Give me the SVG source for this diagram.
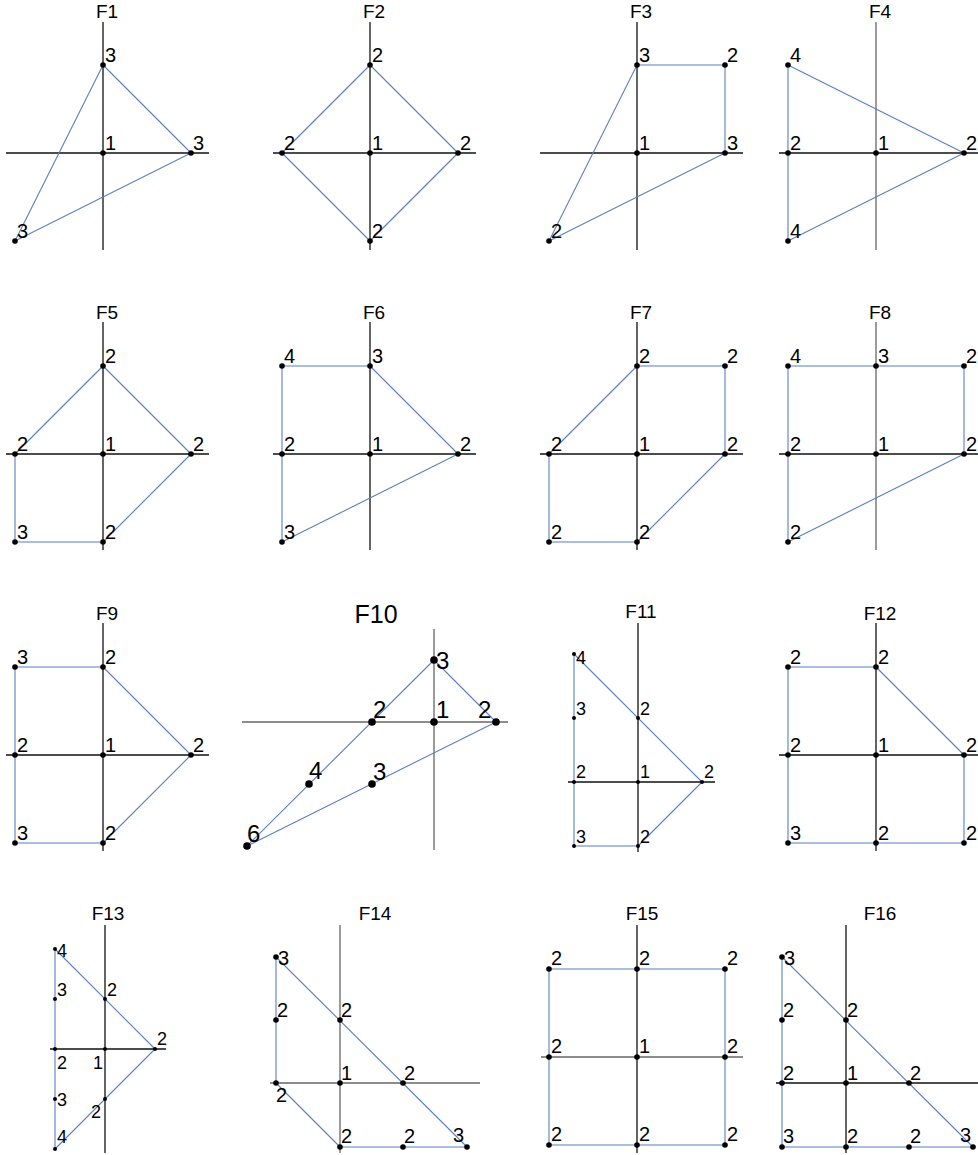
<svg xmlns="http://www.w3.org/2000/svg" width="978" height="1155" viewBox="0 0 978 1155">
<style>
text{font-family:"Liberation Sans",Arial,sans-serif;font-size:20px;fill:#000}
.ttl{font-size:19px;text-anchor:middle}
.big{font-size:24px}
.ttlb{font-size:25px;text-anchor:middle}
.sm{font-size:18px}
.ax{stroke:#111;stroke-width:1.3;fill:none}
.axg{stroke:#666;stroke-width:1.3;fill:none}
.e{stroke:#5b7fc1;stroke-width:1.1;fill:none;stroke-linejoin:round}
circle{fill:#000}
</style>
<rect width="978" height="1155" fill="#fff"/>

<!-- F1 -->
<g id="F1">
<text class="ttl" x="107" y="18">F1</text>
<line class="ax" x1="6" y1="153" x2="209" y2="153"/><line class="ax" x1="103" y1="22" x2="103" y2="250"/>
<g id="F1-edges"><polygon class="e" points="103,65 191,153 15,241"/></g>
<g id="F1-a"><circle cx="103" cy="65" r="2.8"/><text x="105" y="62">3</text></g>
<g id="F1-b"><circle cx="103" cy="153" r="2.8"/><text x="105" y="150">1</text></g>
<g id="F1-c"><circle cx="191" cy="153" r="2.8"/><text x="193" y="150">3</text></g>
<g id="F1-d"><circle cx="15" cy="241" r="2.8"/><text x="17" y="238">3</text></g>
</g>

<!-- F2 -->
<g id="F2">
<text class="ttl" x="374" y="18">F2</text>
<line class="ax" x1="273" y1="153" x2="476" y2="153"/><line class="ax" x1="370" y1="22" x2="370" y2="250"/>
<g id="F2-edges"><polygon class="e" points="370,65 458,153 370,241 282,153"/></g>
<g id="F2-a"><circle cx="370" cy="65" r="2.8"/><text x="372" y="62">2</text></g>
<g id="F2-b"><circle cx="282" cy="153" r="2.8"/><text x="284" y="150">2</text></g>
<g id="F2-c"><circle cx="370" cy="153" r="2.8"/><text x="372" y="150">1</text></g>
<g id="F2-d"><circle cx="458" cy="153" r="2.8"/><text x="460" y="150">2</text></g>
<g id="F2-e"><circle cx="370" cy="241" r="2.8"/><text x="372" y="238">2</text></g>
</g>

<!-- F3 -->
<g id="F3">
<text class="ttl" x="641" y="18">F3</text>
<line class="ax" x1="540" y1="153" x2="743" y2="153"/><line class="ax" x1="637" y1="22" x2="637" y2="250"/>
<g id="F3-edges"><polygon class="e" points="549,241 637,65 725,65 725,153"/></g>
<g id="F3-a"><circle cx="637" cy="65" r="2.8"/><text x="639" y="62">3</text></g>
<g id="F3-b"><circle cx="725" cy="65" r="2.8"/><text x="727" y="62">2</text></g>
<g id="F3-c"><circle cx="637" cy="153" r="2.8"/><text x="639" y="150">1</text></g>
<g id="F3-d"><circle cx="725" cy="153" r="2.8"/><text x="727" y="150">3</text></g>
<g id="F3-e"><circle cx="549" cy="241" r="2.8"/><text x="551" y="238">2</text></g>
</g>

<!-- F4 -->
<g id="F4">
<text class="ttl" x="880" y="18">F4</text>
<line class="ax" x1="779" y1="153" x2="978" y2="153"/><line class="axg" x1="876" y1="22" x2="876" y2="250"/>
<g id="F4-edges"><polygon class="e" points="788,65 964,153 788,241"/></g>
<g id="F4-a"><circle cx="788" cy="65" r="2.8"/><text x="790" y="62">4</text></g>
<g id="F4-b"><circle cx="788" cy="153" r="2.8"/><text x="790" y="150">2</text></g>
<g id="F4-c"><circle cx="876" cy="153" r="2.8"/><text x="878" y="150">1</text></g>
<g id="F4-d"><circle cx="964" cy="153" r="2.8"/><text x="966" y="150">2</text></g>
<g id="F4-e"><circle cx="788" cy="241" r="2.8"/><text x="790" y="238">4</text></g>
</g>

<!-- F5 -->
<g id="F5">
<text class="ttl" x="107" y="319">F5</text>
<line class="ax" x1="6" y1="454" x2="209" y2="454"/><line class="ax" x1="103" y1="322" x2="103" y2="550"/>
<g id="F5-edges"><polygon class="e" points="15,454 103,366 191,454 103,542 15,542"/></g>
<g id="F5-a"><circle cx="103" cy="366" r="2.8"/><text x="105" y="363">2</text></g>
<g id="F5-b"><circle cx="15" cy="454" r="2.8"/><text x="17" y="451">2</text></g>
<g id="F5-c"><circle cx="103" cy="454" r="2.8"/><text x="105" y="451">1</text></g>
<g id="F5-d"><circle cx="191" cy="454" r="2.8"/><text x="193" y="451">2</text></g>
<g id="F5-e"><circle cx="15" cy="542" r="2.8"/><text x="17" y="539">3</text></g>
<g id="F5-f"><circle cx="103" cy="542" r="2.8"/><text x="105" y="539">2</text></g>
</g>

<!-- F6 -->
<g id="F6">
<text class="ttl" x="374" y="319">F6</text>
<line class="ax" x1="273" y1="454" x2="476" y2="454"/><line class="ax" x1="370" y1="322" x2="370" y2="550"/>
<g id="F6-edges"><polygon class="e" points="282,366 370,366 458,454 282,542"/></g>
<g id="F6-a"><circle cx="282" cy="366" r="2.8"/><text x="284" y="363">4</text></g>
<g id="F6-b"><circle cx="370" cy="366" r="2.8"/><text x="372" y="363">3</text></g>
<g id="F6-c"><circle cx="282" cy="454" r="2.8"/><text x="284" y="451">2</text></g>
<g id="F6-d"><circle cx="370" cy="454" r="2.8"/><text x="372" y="451">1</text></g>
<g id="F6-e"><circle cx="458" cy="454" r="2.8"/><text x="460" y="451">2</text></g>
<g id="F6-f"><circle cx="282" cy="542" r="2.8"/><text x="284" y="539">3</text></g>
</g>

<!-- F7 -->
<g id="F7">
<text class="ttl" x="641" y="319">F7</text>
<line class="ax" x1="540" y1="454" x2="743" y2="454"/><line class="ax" x1="637" y1="322" x2="637" y2="550"/>
<g id="F7-edges"><polygon class="e" points="549,454 637,366 725,366 725,454 637,542 549,542"/></g>
<g id="F7-a"><circle cx="637" cy="366" r="2.8"/><text x="639" y="363">2</text></g>
<g id="F7-b"><circle cx="725" cy="366" r="2.8"/><text x="727" y="363">2</text></g>
<g id="F7-c"><circle cx="549" cy="454" r="2.8"/><text x="551" y="451">2</text></g>
<g id="F7-d"><circle cx="637" cy="454" r="2.8"/><text x="639" y="451">1</text></g>
<g id="F7-e"><circle cx="725" cy="454" r="2.8"/><text x="727" y="451">2</text></g>
<g id="F7-f"><circle cx="549" cy="542" r="2.8"/><text x="551" y="539">2</text></g>
<g id="F7-g"><circle cx="637" cy="542" r="2.8"/><text x="639" y="539">2</text></g>
</g>

<!-- F8 -->
<g id="F8">
<text class="ttl" x="880" y="319">F8</text>
<line class="ax" x1="779" y1="454" x2="978" y2="454"/><line class="axg" x1="876" y1="322" x2="876" y2="550"/>
<g id="F8-edges"><polygon class="e" points="788,366 964,366 964,454 788,542"/></g>
<g id="F8-a"><circle cx="788" cy="366" r="2.8"/><text x="790" y="363">4</text></g>
<g id="F8-b"><circle cx="876" cy="366" r="2.8"/><text x="878" y="363">3</text></g>
<g id="F8-c"><circle cx="964" cy="366" r="2.8"/><text x="966" y="363">2</text></g>
<g id="F8-d"><circle cx="788" cy="454" r="2.8"/><text x="790" y="451">2</text></g>
<g id="F8-e"><circle cx="876" cy="454" r="2.8"/><text x="878" y="451">1</text></g>
<g id="F8-f"><circle cx="964" cy="454" r="2.8"/><text x="966" y="451">2</text></g>
<g id="F8-g"><circle cx="788" cy="542" r="2.8"/><text x="790" y="539">2</text></g>
</g>

<!-- F9 -->
<g id="F9">
<text class="ttl" x="107" y="620">F9</text>
<line class="ax" x1="6" y1="755" x2="209" y2="755"/><line class="ax" x1="103" y1="623" x2="103" y2="851"/>
<g id="F9-edges"><polygon class="e" points="15,667 103,667 191,755 103,843 15,843"/></g>
<g id="F9-a"><circle cx="15" cy="667" r="2.8"/><text x="17" y="664">3</text></g>
<g id="F9-b"><circle cx="103" cy="667" r="2.8"/><text x="105" y="664">2</text></g>
<g id="F9-c"><circle cx="15" cy="755" r="2.8"/><text x="17" y="752">2</text></g>
<g id="F9-d"><circle cx="103" cy="755" r="2.8"/><text x="105" y="752">1</text></g>
<g id="F9-e"><circle cx="191" cy="755" r="2.8"/><text x="193" y="752">2</text></g>
<g id="F9-f"><circle cx="15" cy="843" r="2.8"/><text x="17" y="840">3</text></g>
<g id="F9-g"><circle cx="103" cy="843" r="2.8"/><text x="105" y="840">2</text></g>
</g>

<!-- F10 -->
<g id="F10">
<text class="ttlb" x="376" y="623">F10</text>
<line class="axg" x1="242" y1="722" x2="508" y2="722"/><line class="axg" x1="434" y1="629" x2="434" y2="850"/>
<g id="F10-edges"><polygon class="e" points="247,846 434,660 496,722"/></g>
<g id="F10-a"><circle cx="434" cy="660" r="3.8"/><text class="big" x="436" y="669">3</text></g>
<g id="F10-b"><circle cx="372" cy="722" r="3.8"/><text class="big" x="373" y="718">2</text></g>
<g id="F10-c"><circle cx="434" cy="722" r="3.8"/><text class="big" x="436" y="718">1</text></g>
<g id="F10-d"><circle cx="496" cy="722" r="3.8"/><text class="big" x="478" y="718">2</text></g>
<g id="F10-e"><circle cx="309" cy="784" r="3.8"/><text class="big" x="309" y="779">4</text></g>
<g id="F10-f"><circle cx="372" cy="784" r="3.8"/><text class="big" x="373" y="780">3</text></g>
<g id="F10-g"><circle cx="247" cy="846" r="3.8"/><text class="big" x="247" y="842">6</text></g>
</g>

<!-- F11 -->
<g id="F11">
<text class="ttl" x="641" y="618">F11</text>
<line class="ax" x1="568" y1="782" x2="715" y2="782"/><line class="ax" x1="638" y1="623" x2="638" y2="852"/>
<g id="F11-edges"><polygon class="e" points="574,654 702,782 638,846 574,846"/></g>
<g id="F11-a"><circle cx="574" cy="654" r="2"/><text class="sm" x="576" y="664">4</text></g>
<g id="F11-b"><circle cx="574" cy="718" r="2"/><text class="sm" x="576" y="715">3</text></g>
<g id="F11-c"><circle cx="638" cy="718" r="2"/><text class="sm" x="640" y="715">2</text></g>
<g id="F11-d"><circle cx="574" cy="782" r="2"/><text class="sm" x="576" y="778">2</text></g>
<g id="F11-e"><circle cx="638" cy="782" r="2"/><text class="sm" x="640" y="778">1</text></g>
<g id="F11-f"><circle cx="702" cy="782" r="2"/><text class="sm" x="704" y="778">2</text></g>
<g id="F11-g"><circle cx="574" cy="846" r="2"/><text class="sm" x="576" y="843">3</text></g>
<g id="F11-h"><circle cx="638" cy="846" r="2"/><text class="sm" x="640" y="843">2</text></g>
</g>

<!-- F12 -->
<g id="F12">
<text class="ttl" x="880" y="620">F12</text>
<line class="ax" x1="779" y1="755" x2="978" y2="755"/><line class="ax" x1="876" y1="623" x2="876" y2="851"/>
<g id="F12-edges"><polygon class="e" points="788,667 876,667 964,755 964,843 788,843"/></g>
<g id="F12-a"><circle cx="788" cy="667" r="2.8"/><text x="790" y="664">2</text></g>
<g id="F12-b"><circle cx="876" cy="667" r="2.8"/><text x="878" y="664">2</text></g>
<g id="F12-c"><circle cx="788" cy="755" r="2.8"/><text x="790" y="752">2</text></g>
<g id="F12-d"><circle cx="876" cy="755" r="2.8"/><text x="878" y="752">1</text></g>
<g id="F12-e"><circle cx="964" cy="755" r="2.8"/><text x="966" y="752">2</text></g>
<g id="F12-f"><circle cx="788" cy="843" r="2.8"/><text x="790" y="840">3</text></g>
<g id="F12-g"><circle cx="876" cy="843" r="2.8"/><text x="878" y="840">2</text></g>
<g id="F12-h"><circle cx="964" cy="843" r="2.8"/><text x="966" y="840">2</text></g>
</g>

<!-- F13 -->
<g id="F13">
<text class="ttl" x="108" y="920">F13</text>
<line class="ax" x1="50" y1="1049" x2="166" y2="1049"/><line class="ax" x1="105" y1="925" x2="105" y2="1153"/>
<g id="F13-edges"><polygon class="e" points="55,949 155,1049 55,1149"/></g>
<g id="F13-a"><circle cx="55" cy="949" r="2"/><text class="sm" x="57" y="957">4</text></g>
<g id="F13-b"><circle cx="55" cy="999" r="2"/><text class="sm" x="57" y="996">3</text></g>
<g id="F13-c"><circle cx="105" cy="999" r="2"/><text class="sm" x="107" y="996">2</text></g>
<g id="F13-d"><circle cx="55" cy="1049" r="2"/><text class="sm" x="57" y="1069">2</text></g>
<g id="F13-e"><circle cx="105" cy="1049" r="2"/><text class="sm" x="93" y="1069">1</text></g>
<g id="F13-f"><circle cx="155" cy="1049" r="2"/><text class="sm" x="157" y="1045">2</text></g>
<g id="F13-g"><circle cx="55" cy="1099" r="2"/><text class="sm" x="57" y="1106">3</text></g>
<g id="F13-h"><circle cx="105" cy="1099" r="2"/><text class="sm" x="91" y="1118">2</text></g>
<g id="F13-i"><circle cx="55" cy="1149" r="2"/><text class="sm" x="57" y="1143">4</text></g>
</g>

<!-- F14 -->
<g id="F14">
<text class="ttl" x="375" y="920">F14</text>
<line class="axg" x1="270" y1="1083" x2="480" y2="1083"/><line class="axg" x1="340" y1="925" x2="340" y2="1153"/>
<g id="F14-edges"><polygon class="e" points="276,957 467,1147 340,1147 276,1083"/></g>
<g id="F14-a"><circle cx="276" cy="957" r="2.8"/><text x="278" y="965">3</text></g>
<g id="F14-b"><circle cx="276" cy="1020" r="2.8"/><text x="277" y="1017">2</text></g>
<g id="F14-c"><circle cx="340" cy="1020" r="2.8"/><text x="341" y="1017">2</text></g>
<g id="F14-d"><circle cx="276" cy="1083" r="2.8"/><text x="276" y="1102">2</text></g>
<g id="F14-e"><circle cx="340" cy="1083" r="2.8"/><text x="341" y="1080">1</text></g>
<g id="F14-f"><circle cx="403" cy="1083" r="2.8"/><text x="404" y="1080">2</text></g>
<g id="F14-g"><circle cx="340" cy="1147" r="2.8"/><text x="341" y="1143">2</text></g>
<g id="F14-h"><circle cx="403" cy="1147" r="2.8"/><text x="404" y="1143">2</text></g>
<g id="F14-i"><circle cx="467" cy="1147" r="2.8"/><text x="453" y="1142">3</text></g>
</g>

<!-- F15 -->
<g id="F15">
<text class="ttl" x="642" y="920">F15</text>
<line class="axg" x1="541" y1="1057" x2="743" y2="1057"/><line class="ax" x1="637" y1="925" x2="637" y2="1153"/>
<g id="F15-edges"><polygon class="e" points="549,969 725,969 725,1145 549,1145"/></g>
<g id="F15-a"><circle cx="549" cy="969" r="2.8"/><text x="551" y="965">2</text></g>
<g id="F15-b"><circle cx="637" cy="969" r="2.8"/><text x="639" y="965">2</text></g>
<g id="F15-c"><circle cx="725" cy="969" r="2.8"/><text x="727" y="965">2</text></g>
<g id="F15-d"><circle cx="549" cy="1057" r="2.8"/><text x="551" y="1053">2</text></g>
<g id="F15-e"><circle cx="637" cy="1057" r="2.8"/><text x="639" y="1053">1</text></g>
<g id="F15-f"><circle cx="725" cy="1057" r="2.8"/><text x="727" y="1053">2</text></g>
<g id="F15-g"><circle cx="549" cy="1145" r="2.8"/><text x="551" y="1141">2</text></g>
<g id="F15-h"><circle cx="637" cy="1145" r="2.8"/><text x="639" y="1141">2</text></g>
<g id="F15-i"><circle cx="725" cy="1145" r="2.8"/><text x="727" y="1141">2</text></g>
</g>

<!-- F16 -->
<g id="F16">
<text class="ttl" x="880" y="920">F16</text>
<line class="ax" x1="776" y1="1083" x2="978" y2="1083"/><line class="ax" x1="846" y1="925" x2="846" y2="1153"/>
<g id="F16-edges"><polygon class="e" points="782,957 973,1147 782,1147"/></g>
<g id="F16-a"><circle cx="782" cy="957" r="2.8"/><text x="784" y="965">3</text></g>
<g id="F16-b"><circle cx="782" cy="1020" r="2.8"/><text x="783" y="1017">2</text></g>
<g id="F16-c"><circle cx="846" cy="1020" r="2.8"/><text x="847" y="1017">2</text></g>
<g id="F16-d"><circle cx="782" cy="1083" r="2.8"/><text x="783" y="1080">2</text></g>
<g id="F16-e"><circle cx="846" cy="1083" r="2.8"/><text x="847" y="1080">1</text></g>
<g id="F16-f"><circle cx="909" cy="1083" r="2.8"/><text x="910" y="1080">2</text></g>
<g id="F16-g"><circle cx="782" cy="1147" r="2.8"/><text x="783" y="1143">3</text></g>
<g id="F16-h"><circle cx="846" cy="1147" r="2.8"/><text x="847" y="1143">2</text></g>
<g id="F16-i"><circle cx="909" cy="1147" r="2.8"/><text x="910" y="1143">2</text></g>
<g id="F16-j"><circle cx="973" cy="1147" r="2.8"/><text x="960" y="1142">3</text></g>
</g>
</svg>
